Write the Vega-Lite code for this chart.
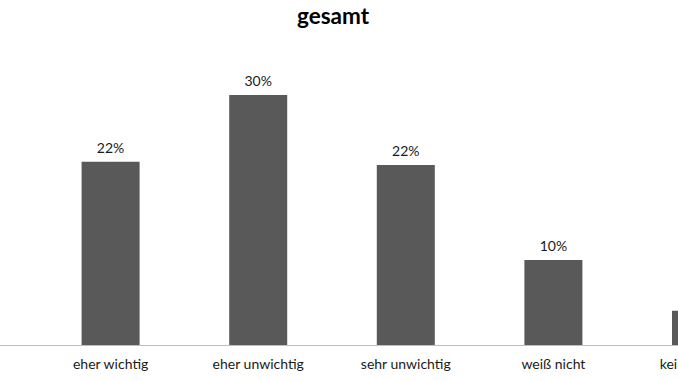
{
  "$schema": "https://vega.github.io/schema/vega-lite/v6.json",
  "autosize": {"type": "none"},
  "width": 678,
  "height": 300,
  "padding": {"left": 0, "top": 45, "right": 0, "bottom": 36},
  "background": "white",
  "config": {"view": {"stroke": null}, "font": "Lato"},
  "title": {"text": "gesamt", "fontSize": 22.5, "fontWeight": "bold", "color": "#000000", "anchor": "middle", "offset": 17, "dx": -6, "font": "Lato"},
  "data": {"values": [
    {"Antwort": "sehr wichtig", "Anteil": 0.12},
    {"Antwort": "eher wichtig", "Anteil": 0.22},
    {"Antwort": "eher unwichtig", "Anteil": 0.30},
    {"Antwort": "sehr unwichtig", "Anteil": 0.216},
    {"Antwort": "weiß nicht", "Anteil": 0.102},
    {"Antwort": "keine Angabe", "Anteil": 0.041}
  ]},
  "encoding": {
    "x": {"field": "Antwort", "type": "nominal", "sort": null,
      "scale": {"range": [-110.8, 774.8], "paddingInner": 0.607, "paddingOuter": 0.3035},
      "axis": {"title": null, "labelAngle": 0, "ticks": false, "domainColor": "#bfbfbf", "domainWidth": 1, "labelFontSize": 14, "labelColor": "#1a1a1a", "labelPadding": 12, "labelFont": "Lato"}},
    "y": {"field": "Anteil", "type": "quantitative", "scale": {"domain": [0, 0.36], "nice": false}, "axis": null}
  },
  "layer": [
    {"mark": {"type": "bar", "color": "#595959"}},
    {"mark": {"type": "text", "baseline": "bottom", "dy": -6, "fontSize": 14, "color": "#1a1a1a", "font": "Lato"},
      "encoding": {"text": {"field": "Anteil", "type": "quantitative", "format": ".0%"}}}
  ]
}
